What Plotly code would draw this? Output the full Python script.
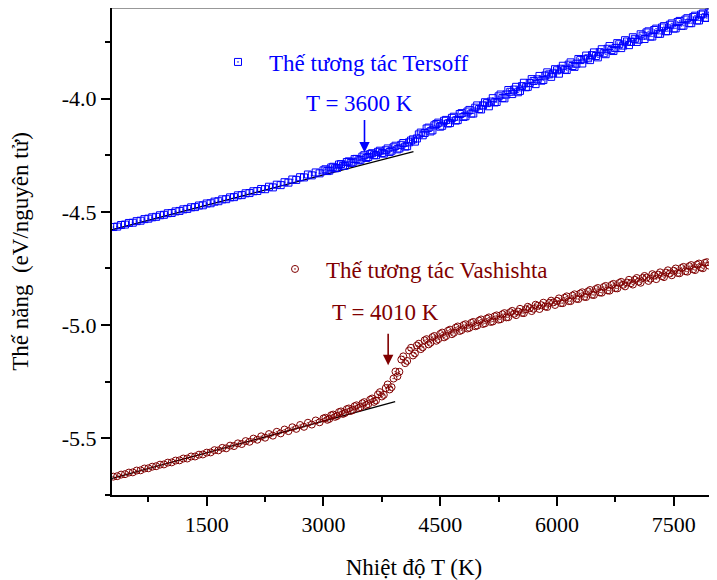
import plotly.graph_objects as go

# ---------------- data ----------------
temp_tersoff = list(range(300, 8001, 50))
e_tersoff = [
    -4.567, -4.565, -4.558, -4.556, -4.549, -4.548, -4.541, -4.539, -4.532, -4.530,
    -4.524, -4.522, -4.515, -4.513, -4.506, -4.505, -4.498, -4.496, -4.489, -4.487,
    -4.480, -4.479, -4.472, -4.471, -4.463, -4.462, -4.455,
    -4.453, -4.445, -4.444, -4.436, -4.435, -4.427, -4.426, -4.418, -4.417, -4.409,
    -4.408, -4.399, -4.400, -4.389, -4.392, -4.380, -4.382, -4.369, -4.371, -4.357,
    -4.359, -4.347, -4.348,
    -4.335, -4.339, -4.326, -4.330, -4.317, -4.320, -4.304, -4.308, -4.291, -4.297,
    -4.280, -4.284, -4.267, -4.273, -4.256, -4.262, -4.245, -4.250, -4.235, -4.240,
    -4.228, -4.236, -4.215, -4.224, -4.204, -4.212, -4.193,
    -4.180, -4.176, -4.150, -4.152,
    -4.128, -4.140, -4.112, -4.124, -4.098, -4.110, -4.085, -4.097, -4.068, -4.081,
    -4.057, -4.066,
    -4.040, -4.046, -4.030, -4.020, -4.013, -4.017, -3.990, -3.997, -3.982, -3.970,
    -3.960, -3.972, -3.945, -3.950,
    -3.931, -3.922, -3.915, -3.921, -3.898, -3.893, -3.889, -3.875, -3.868, -3.872,
    -3.850, -3.856, -3.846, -3.830, -3.826, -3.822,
    -3.808, -3.812, -3.795, -3.800, -3.780, -3.786, -3.777, -3.760, -3.766, -3.748,
    -3.750, -3.736, -3.740, -3.722,
    -3.708, -3.726, -3.697, -3.714, -3.686, -3.703, -3.674, -3.691, -3.662, -3.679,
    -3.651, -3.667, -3.640, -3.655, -3.629, -3.643, -3.620, -3.628,
]
# the band is denser above 3000 K: the points lying between the ones above
temp_tersoff_b = list(range(3025, 7976, 50))
e_tersoff_b = [
    -4.312, -4.318, -4.301, -4.306, -4.289, -4.296, -4.277, -4.281, -4.266, -4.270,
    -4.250, -4.258, -4.241, -4.250, -4.230, -4.243, -4.220, -4.230, -4.208, -4.220,
    -4.196, -4.210,
    -4.185, -4.190, -4.158, -4.162, -4.132, -4.145, -4.118, -4.106, -4.120, -4.094,
    -4.108, -4.080, -4.095, -4.064, -4.078, -4.050, -4.066, -4.030, -4.048, -4.016,
    -4.034, -3.998, -4.015, -3.982, -3.999, -3.962, -3.980, -3.948, -3.966, -3.930,
    -3.948, -3.914, -3.936, -3.900, -3.918, -3.884, -3.904, -3.870, -3.890, -3.855,
    -3.874, -3.840, -3.860, -3.825, -3.845, -3.810, -3.830, -3.796, -3.818, -3.782,
    -3.804, -3.768, -3.790, -3.755, -3.777, -3.742, -3.764, -3.729, -3.750, -3.716,
    -3.737, -3.703, -3.726, -3.691, -3.714, -3.680, -3.702, -3.668, -3.690, -3.657,
    -3.678, -3.645, -3.667, -3.634, -3.655, -3.624, -3.644, -3.612,
]

temp_vashishta = list(range(300, 7951, 50))
e_vashishta = [
    -5.669, -5.667, -5.660, -5.658, -5.651, -5.650, -5.642, -5.641, -5.633, -5.632,
    -5.625, -5.623, -5.616, -5.615, -5.607, -5.606, -5.598, -5.597, -5.589, -5.589,
    -5.580, -5.580, -5.572, -5.571, -5.563,
    -5.562, -5.552, -5.553, -5.542, -5.544, -5.532, -5.534, -5.522, -5.525, -5.512,
    -5.515, -5.501, -5.506, -5.491, -5.497, -5.481, -5.488, -5.471, -5.478, -5.461,
    -5.468, -5.451, -5.458, -5.441, -5.449, -5.431, -5.439, -5.421, -5.429, -5.412,
    -5.418, -5.398, -5.405, -5.384, -5.392, -5.371, -5.379, -5.358, -5.366, -5.345,
    -5.353, -5.329, -5.339,
    -5.306, -5.315, -5.278, -5.284, -5.236, -5.226, -5.152, -5.168, -5.112, -5.134,
    -5.090, -5.106, -5.067,
    -5.085, -5.053, -5.069, -5.039, -5.054, -5.025, -5.040, -5.011, -5.026, -5.000,
    -5.015, -4.990, -5.005, -4.980,
    -4.995, -4.971, -4.986, -4.961, -4.976, -4.952, -4.966, -4.943,
    -4.950, -4.940, -4.946, -4.930, -4.925, -4.928, -4.915, -4.912, -4.918, -4.902,
    -4.900, -4.893,
    -4.903, -4.879, -4.894, -4.870, -4.884, -4.860, -4.875, -4.851, -4.866, -4.841,
    -4.856, -4.832, -4.847, -4.823, -4.837, -4.814,
    -4.822, -4.812, -4.815, -4.800, -4.808, -4.792, -4.790, -4.795, -4.781, -4.777,
    -4.784, -4.768, -4.772, -4.760,
    -4.770, -4.748, -4.762, -4.740, -4.754, -4.733, -4.746, -4.725, -4.737,
]
temp_vashishta_b = list(range(3025, 7926, 50))
e_vashishta_b = [
    -5.409, -5.414, -5.395, -5.401, -5.381, -5.388, -5.368, -5.375, -5.354, -5.362,
    -5.340, -5.349, -5.324, -5.333, -5.296, -5.308, -5.262, -5.274, -5.205, -5.206,
    -5.138, -5.158, -5.100, -5.125, -5.082, -5.098, -5.062, -5.078, -5.048, -5.062,
    -5.033, -5.048, -5.020, -5.034, -5.006, -5.022, -4.996, -5.012, -4.986, -5.002,
    -4.975, -4.992, -4.966, -4.984, -4.957, -4.974, -4.947, -4.965, -4.937, -4.956,
    -4.928, -4.947, -4.919, -4.938, -4.910, -4.929, -4.901, -4.920, -4.892, -4.911,
    -4.882, -4.903, -4.873, -4.894, -4.864, -4.885, -4.855, -4.876, -4.845, -4.867,
    -4.836, -4.857, -4.827, -4.848, -4.818, -4.838, -4.809, -4.829, -4.800, -4.821,
    -4.792, -4.813, -4.783, -4.805, -4.775, -4.797, -4.767, -4.788, -4.758, -4.780,
    -4.750, -4.771, -4.743, -4.764, -4.735, -4.757, -4.728, -4.749, -4.722,
]

fit_t_tersoff = [283, 4156]
fit_e_tersoff = [-4.579, -4.234]
fit_t_vashishta = [283, 3921]
fit_e_vashishta = [-5.677, -5.338]

x_tick_vals = [1500, 3000, 4500, 6000, 7500]
x_tick_text = ["1500", "3000", "4500", "6000", "7500"]
y_tick_vals = [-5.5, -5.0, -4.5, -4.0]
y_tick_text = ["-5.5", "-5.0", "-4.5", "-4.0"]

name_tersoff = "Thế tương tác Tersoff"
name_vashishta = "Thế tương tác Vashishta"
label_tersoff = "T = 3600 K"
label_vashishta = "T = 4010 K"
arrow_tersoff = (3527, -4.238)
arrow_vashishta = (3831, -5.177)
label_pos_tersoff = (3465, -4.023)
label_pos_vashishta = (3793, -4.943)

# ---------------- styling ----------------
FONT = "Liberation Serif"
BLUE = "#0000FF"
WINE = "#800000"

fig = go.Figure()

fig.add_trace(go.Scatter(
    x=fit_t_tersoff, y=fit_e_tersoff, mode="lines",
    line=dict(color="black", width=1.3), showlegend=False, hoverinfo="skip"))
fig.add_trace(go.Scatter(
    x=fit_t_vashishta, y=fit_e_vashishta, mode="lines",
    line=dict(color="black", width=1.3), showlegend=False, hoverinfo="skip"))

sq = dict(symbol="square-open-dot", size=7, color=BLUE, line=dict(width=1, color=BLUE))
ci = dict(symbol="circle-open-dot", size=7, color=WINE, line=dict(width=1, color=WINE))

fig.add_trace(go.Scatter(x=temp_tersoff_b, y=e_tersoff_b, mode="markers",
                         marker=sq, showlegend=False))
fig.add_trace(go.Scatter(x=temp_tersoff, y=e_tersoff, mode="markers", name=name_tersoff,
                         marker=sq, legend="legend"))
fig.add_trace(go.Scatter(x=temp_vashishta_b, y=e_vashishta_b, mode="markers",
                         marker=ci, showlegend=False))
fig.add_trace(go.Scatter(x=temp_vashishta, y=e_vashishta, mode="markers", name=name_vashishta,
                         marker=ci, legend="legend2"))

ann = [
    dict(x=label_pos_tersoff[0], y=label_pos_tersoff[1], xref="x", yref="y",
         text=label_tersoff, showarrow=False, font=dict(family=FONT, size=23, color=BLUE)),
    dict(x=label_pos_vashishta[0], y=label_pos_vashishta[1], xref="x", yref="y",
         text=label_vashishta, showarrow=False, font=dict(family=FONT, size=23, color=WINE)),
    dict(x=arrow_tersoff[0], y=arrow_tersoff[1], xref="x", yref="y",
         text="", showarrow=True, ax=0, ay=-34, arrowhead=2, arrowsize=1.3,
         arrowwidth=1.6, arrowcolor=BLUE),
    dict(x=arrow_vashishta[0], y=arrow_vashishta[1], xref="x", yref="y",
         text="", showarrow=True, ax=0, ay=-33, arrowhead=2, arrowsize=1.3,
         arrowwidth=1.6, arrowcolor=WINE),
]

# The page body has an 8 px margin: the figure is drawn 8 px lower/right.
# Plot area in the window: x 112..716, y 8..495.
def px_x(p):
    return (p - 112) / 604.0

def px_y(p):
    return 1 - (p - 8) / 487.0

fig.update_layout(
    width=709, height=572,
    margin=dict(l=104, r=1, t=0, b=85),
    paper_bgcolor="white", plot_bgcolor="white",
    font=dict(family=FONT, size=22, color="black"),
    annotations=ann,
    legend=dict(x=px_x(207), y=px_y(62), xanchor="left", yanchor="middle",
                bgcolor="rgba(0,0,0,0)", itemwidth=52,
                font=dict(family=FONT, size=23, color=BLUE)),
    legend2=dict(x=px_x(264), y=px_y(269), xanchor="left", yanchor="middle",
                 bgcolor="rgba(0,0,0,0)", itemwidth=52,
                 font=dict(family=FONT, size=23, color=WINE)),
    shapes=[
        dict(type="line", xref="paper", yref="paper", x0=0, x1=1, y0=1, y1=1,
             line=dict(color="#333333", width=1)),
        dict(type="line", xref="paper", yref="paper", x0=1, x1=1, y0=0, y1=1,
             line=dict(color="#333333", width=1)),
    ],
)

fig.update_xaxes(
    range=[283, 8043], showgrid=False, zeroline=False,
    showline=True, linecolor="black", linewidth=2,
    ticks="outside", ticklen=9, tickwidth=1.5, tickcolor="black",
    tickmode="array", tickvals=x_tick_vals, ticktext=x_tick_text,
    tickfont=dict(family=FONT, size=22, color="black"),
    minor=dict(ticks="outside", ticklen=5, tickwidth=1.5, tickcolor="black",
               tickmode="linear", tick0=0, dtick=750),
    title=dict(text="Nhiệt độ T (K)", font=dict(family=FONT, size=23, color="black"),
               standoff=24),
    automargin=False,
)
fig.update_yaxes(
    range=[-5.75, -3.6], showgrid=False, zeroline=False,
    showline=True, linecolor="black", linewidth=2,
    ticks="outside", ticklen=9, tickwidth=1.5, tickcolor="black",
    tickmode="array", tickvals=y_tick_vals, ticktext=y_tick_text,
    tickfont=dict(family=FONT, size=22, color="black"),
    minor=dict(ticks="outside", ticklen=5, tickwidth=1.5, tickcolor="black",
               tickmode="linear", tick0=-4.0, dtick=0.25),
    title=dict(text="Thế năng  (eV/nguyên tử)", font=dict(family=FONT, size=23, color="black"),
               standoff=29),
    automargin=False,
)

fig.write_html("out.html")
